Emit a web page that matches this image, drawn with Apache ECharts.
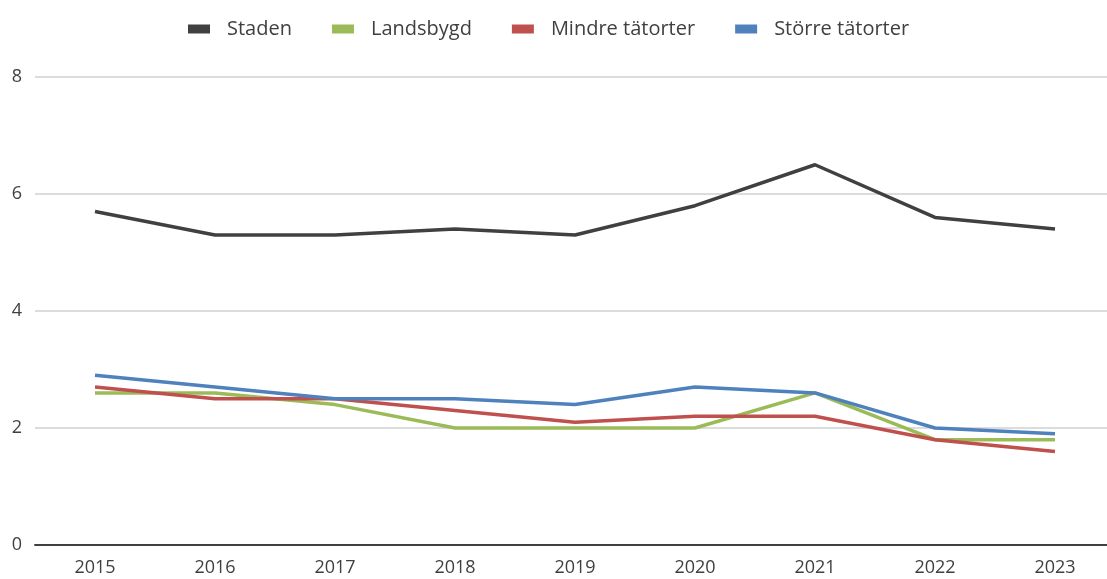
<!DOCTYPE html>
<html>
<head>
<meta charset="utf-8">
<script src="https://cdn.jsdelivr.net/npm/echarts@6/dist/echarts.min.js"></script>
<style>
  html, body { margin: 0; padding: 0; background: #fff; overflow: hidden; }
  /* drawing surface is slightly wider than the window; the plot runs off the right edge */
  #chart { width: 1115px; height: 579px; }
</style>
</head>
<body>
<div id="chart"></div>
<script>
const years = ['2015', '2016', '2017', '2018', '2019', '2020', '2021', '2022', '2023'];
const staden = [5.7, 5.3, 5.3, 5.4, 5.3, 5.8, 6.5, 5.6, 5.4];
const landsbygd = [2.6, 2.6, 2.4, 2.0, 2.0, 2.0, 2.6, 1.8, 1.8];
const mindreTatorter = [2.7, 2.5, 2.5, 2.3, 2.1, 2.2, 2.2, 1.8, 1.6];
const storreTatorter = [2.9, 2.7, 2.5, 2.5, 2.4, 2.7, 2.6, 2.0, 1.9];
const yTicks = [0, 2, 4, 6, 8];

const font = '"Open Sans", "Noto Sans", sans-serif';
const textColor = '#404040';

function line(name, data, color) {
  return {
    name, type: 'line', data,
    symbol: 'none',
    lineStyle: { width: 3.5, color },
    itemStyle: { color },
    z: 3
  };
}

const chart = echarts.init(document.getElementById('chart'));
chart.setOption({
  animation: false,
  textStyle: { fontFamily: font, color: textColor },
  legend: {
    top: 19,
    left: 188,
    padding: 0,
    itemWidth: 22,
    itemHeight: 9,
    itemGap: 40,
    icon: 'rect',
    textStyle: { fontSize: 20, color: textColor, fontFamily: font, padding: [0, 0, 0, 12] },
    data: ['Staden', 'Landsbygd', 'Mindre tätorter', 'Större tätorter']
  },
  grid: { left: 35, right: 0, top: 77, bottom: 34, containLabel: false },
  xAxis: {
    type: 'category',
    data: years,
    boundaryGap: true,
    axisLine: { lineStyle: { color: '#404040', width: 2 } },
    axisTick: { show: false },
    axisLabel: { fontSize: 18, color: textColor, margin: 14 }
  },
  yAxis: {
    type: 'value',
    min: yTicks[0],
    max: yTicks[yTicks.length - 1],
    interval: 2,
    axisLine: { show: false },
    axisTick: { show: false },
    axisLabel: { fontSize: 18, color: textColor, margin: 13 },
    splitLine: { lineStyle: { color: '#d0d0d0', width: 1.5 } }
  },
  series: [
    line('Staden', staden, '#404040'),
    line('Landsbygd', landsbygd, '#9BBB59'),
    line('Mindre tätorter', mindreTatorter, '#C0504D'),
    line('Större tätorter', storreTatorter, '#4F81BD')
  ]
});
</script>
</body>
</html>
